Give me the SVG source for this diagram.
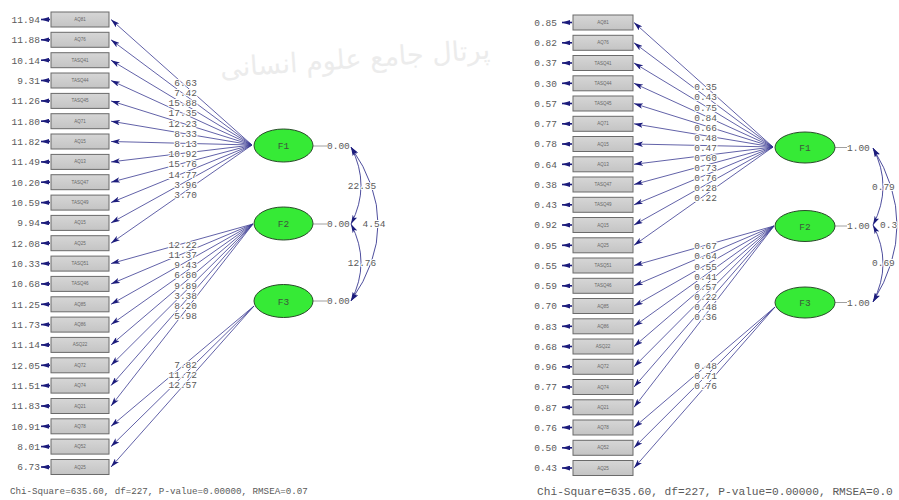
<svg xmlns="http://www.w3.org/2000/svg" width="899" height="500" viewBox="0 0 899 500">
  <defs>
    <marker id="ah" viewBox="0 0 10 6" refX="10" refY="3" markerWidth="9" markerHeight="5.4" orient="auto-start-reverse" markerUnits="userSpaceOnUse">
      <path d="M0,0 L10,3 L0,6 L2.5,3 z" fill="#1c1c7c"/>
    </marker>
    <marker id="eh" viewBox="0 0 10 6" refX="10" refY="3" markerWidth="8" markerHeight="5" orient="auto" markerUnits="userSpaceOnUse">
      <path d="M0,0 L10,3 L0,6 z" fill="#1c1c7c"/>
    </marker>
    <linearGradient id="boxfill" x1="0" y1="0" x2="0" y2="1">
      <stop offset="0" stop-color="#d6d6d6"/>
      <stop offset="1" stop-color="#c4c4c4"/>
    </linearGradient>
  </defs>
  <style>
    .num { font-family: "Liberation Mono", "DejaVu Sans Mono", monospace; font-size: 9.5px; fill: #5a5a5a; }
    .lab { paint-order: stroke; stroke: #fff; stroke-width: 2.2px; stroke-linejoin: round; }
    .box { fill: url(#boxfill); stroke: #6a6a6a; stroke-width: 1; }
    .vname { font-family: "Liberation Sans", Arial, sans-serif; font-size: 4.5px; fill: #666; text-anchor: middle; }
    .err { stroke: #1c1c7c; stroke-width: 1.6; marker-end: url(#eh); }
    .load { stroke: #3a3a92; stroke-width: 0.8; fill: none; marker-end: url(#ah); }
    .cov { stroke: #3a3a92; stroke-width: 0.9; fill: none; marker-start: url(#ah); marker-end: url(#ah); }
    .lat { fill: #36ea36; stroke: #2a4a2a; stroke-width: 1; }
    .latname { font-family: "Liberation Mono", monospace; font-size: 9.5px; fill: #3d553d; text-anchor: middle; }
    .tick { stroke: #888; stroke-width: 0.8; }
    .wm { font-family: "DejaVu Sans", sans-serif; font-size: 27px; fill: #ececec; text-anchor: middle; }
  </style>

  <rect width="899" height="500" fill="#fff"/>

  <!-- faint portal watermark -->
  <text class="wm" x="355" y="68" transform="rotate(-4 355 60)">پرتال جامع علوم انسانی</text>

  <!-- ===== t-value solution (left) ===== -->
  <g id="left-connectors">
    <!-- F1 loadings -->
    <line class="load" x1="252" y1="145" x2="111" y2="19.5"/>
    <line class="load" x1="252" y1="145" x2="111" y2="39.8"/>
    <line class="load" x1="252" y1="145" x2="111" y2="60.2"/>
    <line class="load" x1="252" y1="145" x2="111" y2="80.5"/>
    <line class="load" x1="252" y1="145" x2="111" y2="100.9"/>
    <line class="load" x1="252" y1="145" x2="111" y2="121.2"/>
    <line class="load" x1="252" y1="145" x2="111" y2="141.5"/>
    <line class="load" x1="252" y1="145" x2="111" y2="161.9"/>
    <line class="load" x1="252" y1="145" x2="111" y2="182.2"/>
    <line class="load" x1="252" y1="145" x2="111" y2="202.6"/>
    <line class="load" x1="252" y1="145" x2="111" y2="222.9"/>
    <line class="load" x1="252" y1="145" x2="111" y2="243.2"/>
    <!-- F2 loadings -->
    <line class="load" x1="253" y1="224" x2="111" y2="263.6"/>
    <line class="load" x1="253" y1="224" x2="111" y2="283.9"/>
    <line class="load" x1="253" y1="224" x2="111" y2="304.3"/>
    <line class="load" x1="253" y1="224" x2="111" y2="324.6"/>
    <line class="load" x1="253" y1="224" x2="111" y2="344.9"/>
    <line class="load" x1="253" y1="224" x2="111" y2="365.3"/>
    <line class="load" x1="253" y1="224" x2="111" y2="385.6"/>
    <line class="load" x1="253" y1="224" x2="111" y2="406.0"/>
    <!-- F3 loadings -->
    <line class="load" x1="254" y1="306" x2="111" y2="426.3"/>
    <line class="load" x1="254" y1="306" x2="111" y2="446.6"/>
    <line class="load" x1="254" y1="306" x2="111" y2="467.0"/>
    <!-- factor covariances -->
    <path class="cov" d="M351,147 Q371,185.5 351,224"/>
    <path class="cov" d="M351,147 Q405,224 351,301"/>
    <path class="cov" d="M351,224 Q371,262.5 351,301"/>

    <g class="num lab" text-anchor="end">
      <text x="197" y="85.8">6.63</text>
      <text x="197" y="96">7.42</text>
      <text x="197" y="106.2">15.88</text>
      <text x="197" y="116.4">17.35</text>
      <text x="197" y="126.6">12.23</text>
      <text x="197" y="136.8">8.33</text>
      <text x="197" y="147">8.13</text>
      <text x="197" y="157.2">10.92</text>
      <text x="197" y="167.4">15.76</text>
      <text x="197" y="177.6">14.77</text>
      <text x="197" y="187.8">3.96</text>
      <text x="197" y="198">3.70</text>

      <text x="197" y="247.8">12.22</text>
      <text x="197" y="258">11.37</text>
      <text x="197" y="268.2">9.43</text>
      <text x="197" y="278.4">6.80</text>
      <text x="197" y="288.6">9.89</text>
      <text x="197" y="298.8">3.38</text>
      <text x="197" y="309">8.20</text>
      <text x="197" y="319.2">5.98</text>

      <text x="197" y="367.8">7.82</text>
      <text x="197" y="378">11.72</text>
      <text x="197" y="388.2">12.57</text>
    </g>
    <g class="num lab" text-anchor="middle">
      <text x="362" y="188.8">22.35</text>
      <text x="374" y="227.3">4.54</text>
      <text x="362" y="266.3">12.76</text>
    </g>
  </g>

  <g id="left-F1">
    <line class="tick" x1="313" y1="146" x2="327" y2="146"/>
    <ellipse class="lat" cx="283.5" cy="145.5" rx="29.5" ry="16.5"/>
    <text class="latname" x="283.5" y="149">F1</text>
    <text class="num" x="327" y="149.3">0.00</text>
  </g>
  <g id="left-F2">
    <line class="tick" x1="313" y1="224" x2="327" y2="224"/>
    <ellipse class="lat" cx="283.5" cy="223.5" rx="29.5" ry="16.5"/>
    <text class="latname" x="283.5" y="227">F2</text>
    <text class="num" x="327" y="227.3">0.00</text>
  </g>
  <g id="left-F3">
    <line class="tick" x1="313" y1="301" x2="327" y2="301"/>
    <ellipse class="lat" cx="283.5" cy="301" rx="29.5" ry="16.5"/>
    <text class="latname" x="283.5" y="304.5">F3</text>
    <text class="num" x="327" y="304.3">0.00</text>
  </g>

  <g id="left-indicators">
    <g id="l01"><rect class="box" x="51" y="12" width="58" height="15"/><text class="vname" x="80" y="21">AQ81</text><line class="err" x1="50" y1="19.5" x2="41" y2="19.5"/><text class="num" x="40" y="22.8" text-anchor="end">11.94</text></g>
    <g id="l02"><rect class="box" x="51" y="32.3" width="58" height="15"/><text class="vname" x="80" y="41.3">AQ76</text><line class="err" x1="50" y1="39.8" x2="41" y2="39.8"/><text class="num" x="40" y="43.1" text-anchor="end">11.88</text></g>
    <g id="l03"><rect class="box" x="51" y="52.7" width="58" height="15"/><text class="vname" x="80" y="61.7">TASQ41</text><line class="err" x1="50" y1="60.2" x2="41" y2="60.2"/><text class="num" x="40" y="63.5" text-anchor="end">10.14</text></g>
    <g id="l04"><rect class="box" x="51" y="73" width="58" height="15"/><text class="vname" x="80" y="82">TASQ44</text><line class="err" x1="50" y1="80.5" x2="41" y2="80.5"/><text class="num" x="40" y="83.8" text-anchor="end">9.31</text></g>
    <g id="l05"><rect class="box" x="51" y="93.4" width="58" height="15"/><text class="vname" x="80" y="102.4">TASQ45</text><line class="err" x1="50" y1="100.9" x2="41" y2="100.9"/><text class="num" x="40" y="104.2" text-anchor="end">11.26</text></g>
    <g id="l06"><rect class="box" x="51" y="113.7" width="58" height="15"/><text class="vname" x="80" y="122.7">AQ71</text><line class="err" x1="50" y1="121.2" x2="41" y2="121.2"/><text class="num" x="40" y="124.5" text-anchor="end">11.80</text></g>
    <g id="l07"><rect class="box" x="51" y="134" width="58" height="15"/><text class="vname" x="80" y="143">AQ15</text><line class="err" x1="50" y1="141.5" x2="41" y2="141.5"/><text class="num" x="40" y="144.8" text-anchor="end">11.82</text></g>
    <g id="l08"><rect class="box" x="51" y="154.4" width="58" height="15"/><text class="vname" x="80" y="163.4">AQ13</text><line class="err" x1="50" y1="161.9" x2="41" y2="161.9"/><text class="num" x="40" y="165.2" text-anchor="end">11.49</text></g>
    <g id="l09"><rect class="box" x="51" y="174.7" width="58" height="15"/><text class="vname" x="80" y="183.7">TASQ47</text><line class="err" x1="50" y1="182.2" x2="41" y2="182.2"/><text class="num" x="40" y="185.5" text-anchor="end">10.20</text></g>
    <g id="l10"><rect class="box" x="51" y="195.1" width="58" height="15"/><text class="vname" x="80" y="204.1">TASQ49</text><line class="err" x1="50" y1="202.6" x2="41" y2="202.6"/><text class="num" x="40" y="205.9" text-anchor="end">10.59</text></g>
    <g id="l11"><rect class="box" x="51" y="215.4" width="58" height="15"/><text class="vname" x="80" y="224.4">AQ15</text><line class="err" x1="50" y1="222.9" x2="41" y2="222.9"/><text class="num" x="40" y="226.2" text-anchor="end">9.94</text></g>
    <g id="l12"><rect class="box" x="51" y="235.7" width="58" height="15"/><text class="vname" x="80" y="244.7">AQ25</text><line class="err" x1="50" y1="243.2" x2="41" y2="243.2"/><text class="num" x="40" y="246.5" text-anchor="end">12.08</text></g>
    <g id="l13"><rect class="box" x="51" y="256.1" width="58" height="15"/><text class="vname" x="80" y="265.1">TASQ51</text><line class="err" x1="50" y1="263.6" x2="41" y2="263.6"/><text class="num" x="40" y="266.9" text-anchor="end">10.33</text></g>
    <g id="l14"><rect class="box" x="51" y="276.4" width="58" height="15"/><text class="vname" x="80" y="285.4">TASQ46</text><line class="err" x1="50" y1="283.9" x2="41" y2="283.9"/><text class="num" x="40" y="287.2" text-anchor="end">10.68</text></g>
    <g id="l15"><rect class="box" x="51" y="296.8" width="58" height="15"/><text class="vname" x="80" y="305.8">AQ85</text><line class="err" x1="50" y1="304.3" x2="41" y2="304.3"/><text class="num" x="40" y="307.6" text-anchor="end">11.25</text></g>
    <g id="l16"><rect class="box" x="51" y="317.1" width="58" height="15"/><text class="vname" x="80" y="326.1">AQ86</text><line class="err" x1="50" y1="324.6" x2="41" y2="324.6"/><text class="num" x="40" y="327.9" text-anchor="end">11.73</text></g>
    <g id="l17"><rect class="box" x="51" y="337.4" width="58" height="15"/><text class="vname" x="80" y="346.4">ASQ22</text><line class="err" x1="50" y1="344.9" x2="41" y2="344.9"/><text class="num" x="40" y="348.2" text-anchor="end">11.14</text></g>
    <g id="l18"><rect class="box" x="51" y="357.8" width="58" height="15"/><text class="vname" x="80" y="366.8">AQ72</text><line class="err" x1="50" y1="365.3" x2="41" y2="365.3"/><text class="num" x="40" y="368.6" text-anchor="end">12.05</text></g>
    <g id="l19"><rect class="box" x="51" y="378.1" width="58" height="15"/><text class="vname" x="80" y="387.1">AQ74</text><line class="err" x1="50" y1="385.6" x2="41" y2="385.6"/><text class="num" x="40" y="388.9" text-anchor="end">11.51</text></g>
    <g id="l20"><rect class="box" x="51" y="398.5" width="58" height="15"/><text class="vname" x="80" y="407.5">AQ21</text><line class="err" x1="50" y1="406" x2="41" y2="406"/><text class="num" x="40" y="409.3" text-anchor="end">11.83</text></g>
    <g id="l21"><rect class="box" x="51" y="418.8" width="58" height="15"/><text class="vname" x="80" y="427.8">AQ78</text><line class="err" x1="50" y1="426.3" x2="41" y2="426.3"/><text class="num" x="40" y="429.6" text-anchor="end">10.91</text></g>
    <g id="l22"><rect class="box" x="51" y="439.1" width="58" height="15"/><text class="vname" x="80" y="448.1">AQ52</text><line class="err" x1="50" y1="446.6" x2="41" y2="446.6"/><text class="num" x="40" y="449.9" text-anchor="end">8.01</text></g>
    <g id="l23"><rect class="box" x="51" y="459.5" width="58" height="15"/><text class="vname" x="80" y="468.5">AQ25</text><line class="err" x1="50" y1="467" x2="41" y2="467"/><text class="num" x="40" y="470.3" text-anchor="end">6.73</text></g>
  </g>

  <text class="num" x="10" y="494" style="font-size:9.2px">Chi-Square=635.60, df=227, P-value=0.00000, RMSEA=0.07</text>

  <!-- ===== standardized solution (right) ===== -->
  <g id="right-connectors">
    <line class="load" x1="773" y1="147" x2="634" y2="22.5"/>
    <line class="load" x1="773" y1="147" x2="634" y2="42.8"/>
    <line class="load" x1="773" y1="147" x2="634" y2="63"/>
    <line class="load" x1="773" y1="147" x2="634" y2="83.3"/>
    <line class="load" x1="773" y1="147" x2="634" y2="103.5"/>
    <line class="load" x1="773" y1="147" x2="634" y2="123.8"/>
    <line class="load" x1="773" y1="147" x2="634" y2="144"/>
    <line class="load" x1="773" y1="147" x2="634" y2="164.3"/>
    <line class="load" x1="773" y1="147" x2="634" y2="184.5"/>
    <line class="load" x1="773" y1="147" x2="634" y2="204.8"/>
    <line class="load" x1="773" y1="147" x2="634" y2="225"/>
    <line class="load" x1="773" y1="147" x2="634" y2="245.3"/>

    <line class="load" x1="774" y1="226" x2="634" y2="265.5"/>
    <line class="load" x1="774" y1="226" x2="634" y2="285.8"/>
    <line class="load" x1="774" y1="226" x2="634" y2="306"/>
    <line class="load" x1="774" y1="226" x2="634" y2="326.3"/>
    <line class="load" x1="774" y1="226" x2="634" y2="346.5"/>
    <line class="load" x1="774" y1="226" x2="634" y2="366.8"/>
    <line class="load" x1="774" y1="226" x2="634" y2="387"/>
    <line class="load" x1="774" y1="226" x2="634" y2="407.3"/>

    <line class="load" x1="775" y1="307" x2="634" y2="427.5"/>
    <line class="load" x1="775" y1="307" x2="634" y2="447.8"/>
    <line class="load" x1="775" y1="307" x2="634" y2="468"/>

    <path class="cov" d="M873,148 Q893,186.5 873,225"/>
    <path class="cov" d="M873,148 Q921,225 873,302"/>
    <path class="cov" d="M873,225 Q893,263.5 873,302"/>

    <g class="num lab" text-anchor="end">
      <text x="717" y="90.3">0.35</text>
      <text x="717" y="100.4">0.43</text>
      <text x="717" y="110.5">0.75</text>
      <text x="717" y="120.6">0.84</text>
      <text x="717" y="130.7">0.66</text>
      <text x="717" y="140.8">0.48</text>
      <text x="717" y="150.9">0.47</text>
      <text x="717" y="161">0.60</text>
      <text x="717" y="171.1">0.73</text>
      <text x="717" y="181.2">0.76</text>
      <text x="717" y="191.3">0.28</text>
      <text x="717" y="201.4">0.22</text>

      <text x="717" y="249.3">0.67</text>
      <text x="717" y="259.4">0.64</text>
      <text x="717" y="269.5">0.55</text>
      <text x="717" y="279.6">0.41</text>
      <text x="717" y="289.7">0.57</text>
      <text x="717" y="299.8">0.22</text>
      <text x="717" y="309.9">0.48</text>
      <text x="717" y="320">0.36</text>

      <text x="717" y="368.8">0.48</text>
      <text x="717" y="378.9">0.71</text>
      <text x="717" y="389">0.76</text>
    </g>
    <g class="num lab">
      <text x="872" y="190.3">0.79</text>
      <text x="880" y="228.3">0.3</text>
      <text x="872" y="266.3">0.69</text>
    </g>
  </g>

  <g id="right-F1">
    <line class="tick" x1="835" y1="147.5" x2="847" y2="147.5"/>
    <ellipse class="lat" cx="805" cy="147.5" rx="30" ry="15.5"/>
    <text class="latname" x="805" y="151">F1</text>
    <text class="num" x="847" y="151">1.00</text>
  </g>
  <g id="right-F2">
    <line class="tick" x1="835" y1="226" x2="847" y2="226"/>
    <ellipse class="lat" cx="805" cy="226" rx="30" ry="15.5"/>
    <text class="latname" x="805" y="229.5">F2</text>
    <text class="num" x="847" y="229.3">1.00</text>
  </g>
  <g id="right-F3">
    <line class="tick" x1="835" y1="302.5" x2="847" y2="302.5"/>
    <ellipse class="lat" cx="805" cy="302.5" rx="30" ry="15.5"/>
    <text class="latname" x="805" y="306">F3</text>
    <text class="num" x="847" y="305.8">1.00</text>
  </g>

  <g id="right-indicators">
    <g id="r01"><rect class="box" x="573" y="15" width="60" height="15"/><text class="vname" x="603" y="24">AQ81</text><line class="err" x1="572" y1="22.5" x2="562" y2="22.5"/><text class="num" x="557" y="25.8" text-anchor="end">0.85</text></g>
    <g id="r02"><rect class="box" x="573" y="35.3" width="60" height="15"/><text class="vname" x="603" y="44.3">AQ76</text><line class="err" x1="572" y1="42.8" x2="562" y2="42.8"/><text class="num" x="557" y="46.1" text-anchor="end">0.82</text></g>
    <g id="r03"><rect class="box" x="573" y="55.5" width="60" height="15"/><text class="vname" x="603" y="64.5">TASQ41</text><line class="err" x1="572" y1="63" x2="562" y2="63"/><text class="num" x="557" y="66.3" text-anchor="end">0.37</text></g>
    <g id="r04"><rect class="box" x="573" y="75.8" width="60" height="15"/><text class="vname" x="603" y="84.8">TASQ44</text><line class="err" x1="572" y1="83.3" x2="562" y2="83.3"/><text class="num" x="557" y="86.6" text-anchor="end">0.30</text></g>
    <g id="r05"><rect class="box" x="573" y="96" width="60" height="15"/><text class="vname" x="603" y="105">TASQ45</text><line class="err" x1="572" y1="103.5" x2="562" y2="103.5"/><text class="num" x="557" y="106.8" text-anchor="end">0.57</text></g>
    <g id="r06"><rect class="box" x="573" y="116.3" width="60" height="15"/><text class="vname" x="603" y="125.3">AQ71</text><line class="err" x1="572" y1="123.8" x2="562" y2="123.8"/><text class="num" x="557" y="127.1" text-anchor="end">0.77</text></g>
    <g id="r07"><rect class="box" x="573" y="136.5" width="60" height="15"/><text class="vname" x="603" y="145.5">AQ15</text><line class="err" x1="572" y1="144" x2="562" y2="144"/><text class="num" x="557" y="147.3" text-anchor="end">0.78</text></g>
    <g id="r08"><rect class="box" x="573" y="156.8" width="60" height="15"/><text class="vname" x="603" y="165.8">AQ13</text><line class="err" x1="572" y1="164.3" x2="562" y2="164.3"/><text class="num" x="557" y="167.6" text-anchor="end">0.64</text></g>
    <g id="r09"><rect class="box" x="573" y="177" width="60" height="15"/><text class="vname" x="603" y="186">TASQ47</text><line class="err" x1="572" y1="184.5" x2="562" y2="184.5"/><text class="num" x="557" y="187.8" text-anchor="end">0.38</text></g>
    <g id="r10"><rect class="box" x="573" y="197.3" width="60" height="15"/><text class="vname" x="603" y="206.3">TASQ49</text><line class="err" x1="572" y1="204.8" x2="562" y2="204.8"/><text class="num" x="557" y="208.1" text-anchor="end">0.43</text></g>
    <g id="r11"><rect class="box" x="573" y="217.5" width="60" height="15"/><text class="vname" x="603" y="226.5">AQ15</text><line class="err" x1="572" y1="225" x2="562" y2="225"/><text class="num" x="557" y="228.3" text-anchor="end">0.92</text></g>
    <g id="r12"><rect class="box" x="573" y="237.8" width="60" height="15"/><text class="vname" x="603" y="246.8">AQ25</text><line class="err" x1="572" y1="245.3" x2="562" y2="245.3"/><text class="num" x="557" y="248.6" text-anchor="end">0.95</text></g>
    <g id="r13"><rect class="box" x="573" y="258" width="60" height="15"/><text class="vname" x="603" y="267">TASQ51</text><line class="err" x1="572" y1="265.5" x2="562" y2="265.5"/><text class="num" x="557" y="268.8" text-anchor="end">0.55</text></g>
    <g id="r14"><rect class="box" x="573" y="278.3" width="60" height="15"/><text class="vname" x="603" y="287.3">TASQ46</text><line class="err" x1="572" y1="285.8" x2="562" y2="285.8"/><text class="num" x="557" y="289.1" text-anchor="end">0.59</text></g>
    <g id="r15"><rect class="box" x="573" y="298.5" width="60" height="15"/><text class="vname" x="603" y="307.5">AQ85</text><line class="err" x1="572" y1="306" x2="562" y2="306"/><text class="num" x="557" y="309.3" text-anchor="end">0.70</text></g>
    <g id="r16"><rect class="box" x="573" y="318.8" width="60" height="15"/><text class="vname" x="603" y="327.8">AQ86</text><line class="err" x1="572" y1="326.3" x2="562" y2="326.3"/><text class="num" x="557" y="329.6" text-anchor="end">0.83</text></g>
    <g id="r17"><rect class="box" x="573" y="339" width="60" height="15"/><text class="vname" x="603" y="348">ASQ22</text><line class="err" x1="572" y1="346.5" x2="562" y2="346.5"/><text class="num" x="557" y="349.8" text-anchor="end">0.68</text></g>
    <g id="r18"><rect class="box" x="573" y="359.3" width="60" height="15"/><text class="vname" x="603" y="368.3">AQ72</text><line class="err" x1="572" y1="366.8" x2="562" y2="366.8"/><text class="num" x="557" y="370.1" text-anchor="end">0.96</text></g>
    <g id="r19"><rect class="box" x="573" y="379.5" width="60" height="15"/><text class="vname" x="603" y="388.5">AQ74</text><line class="err" x1="572" y1="387" x2="562" y2="387"/><text class="num" x="557" y="390.3" text-anchor="end">0.77</text></g>
    <g id="r20"><rect class="box" x="573" y="399.8" width="60" height="15"/><text class="vname" x="603" y="408.8">AQ21</text><line class="err" x1="572" y1="407.3" x2="562" y2="407.3"/><text class="num" x="557" y="410.6" text-anchor="end">0.87</text></g>
    <g id="r21"><rect class="box" x="573" y="420" width="60" height="15"/><text class="vname" x="603" y="429">AQ78</text><line class="err" x1="572" y1="427.5" x2="562" y2="427.5"/><text class="num" x="557" y="430.8" text-anchor="end">0.76</text></g>
    <g id="r22"><rect class="box" x="573" y="440.3" width="60" height="15"/><text class="vname" x="603" y="449.3">AQ52</text><line class="err" x1="572" y1="447.8" x2="562" y2="447.8"/><text class="num" x="557" y="451.1" text-anchor="end">0.50</text></g>
    <g id="r23"><rect class="box" x="573" y="460.5" width="60" height="15"/><text class="vname" x="603" y="469.5">AQ25</text><line class="err" x1="572" y1="468" x2="562" y2="468"/><text class="num" x="557" y="471.3" text-anchor="end">0.43</text></g>
  </g>

  <text class="num" x="537" y="495" style="font-size:11.2px">Chi-Square=635.60, df=227, P-value=0.00000, RMSEA=0.0</text>
</svg>
